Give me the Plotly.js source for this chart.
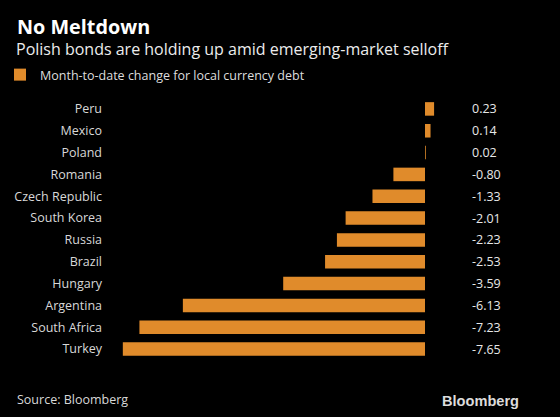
<!DOCTYPE html>
<html>
<head>
<meta charset="utf-8">
<script src="https://cdn.plot.ly/plotly-3.0.1.min.js"></script>
<style>
  html, body { margin: 0; padding: 0; background: #000; }
  #chart { width: 560px; height: 417px; }
</style>
</head>
<body>
<div id="chart"></div>
<script>
const countries = ["Peru", "Mexico", "Poland", "Romania", "Czech Republic", "South Korea",
                   "Russia", "Brazil", "Hungary", "Argentina", "South Africa", "Turkey"];
const changes = [0.23, 0.14, 0.02, -0.80, -1.33, -2.01, -2.23, -2.53, -3.59, -6.13, -7.23, -7.65];
const seriesName = "Month-to-date change for local currency debt";

const FONT = "Open Sans, DejaVu Sans, sans-serif";
const barColor = "#e08b2b";

// plot area in pixels (for converting header/footer positions to paper coords)
const M = { l: 106, r: 100, t: 98, b: 57 };
const W = 560, H = 417;
const PW = W - M.l - M.r, PH = H - M.t - M.b;
const px = x => (x - M.l) / PW;
const py = y => (H - M.b - y) / PH;

const valueAnnotations = countries.map((c, i) => ({
  xref: "paper", yref: "y",
  x: px(470), y: c,
  xanchor: "left", yanchor: "middle",
  text: changes[i].toFixed(2),
  showarrow: false,
  font: { family: FONT, size: 12.5, color: "#e8e8e8" }
}));

const data = [{
  type: "bar",
  orientation: "h",
  x: changes,
  y: countries,
  name: seriesName,
  marker: { color: barColor },
  width: 0.62,
  hoverinfo: "x+y",
  showlegend: true
}];

const layout = {
  width: W, height: H,
  paper_bgcolor: "#000", plot_bgcolor: "#000",
  margin: M,
  font: { family: FONT, color: "#dddddd", size: 12.5 },
  xaxis: {
    range: [-8.076, 0.886],
    showgrid: false, zeroline: false, showticklabels: false, showline: false, ticks: ""
  },
  yaxis: {
    type: "category",
    range: [11.5, -0.5],
    showgrid: false, zeroline: false, showline: false, ticks: "",
    ticklabelstandoff: 3,
    tickfont: { family: FONT, size: 12.5, color: "#d8d8d8" }
  },
  showlegend: true,
  legend: {
    orientation: "h",
    xref: "container", yref: "container",
    x: 0, y: 1 - 75 / H, xanchor: "left", yanchor: "middle",
    font: { family: FONT, size: 12.5, color: "#dddddd" },
    bgcolor: "rgba(0,0,0,0)"
  },
  annotations: [
    {
      xref: "paper", yref: "paper", x: px(15), y: py(26),
      xanchor: "left", yanchor: "middle", showarrow: false,
      text: "<b>No Meltdown</b>",
      font: { family: FONT, size: 19.8, color: "#ffffff" }
    },
    {
      xref: "paper", yref: "paper", x: px(14), y: py(49),
      xanchor: "left", yanchor: "middle", showarrow: false,
      text: "Polish bonds are holding up amid emerging-market selloff",
      font: { family: FONT, size: 16, color: "#ececec" }
    },
    {
      xref: "paper", yref: "paper", x: px(15), y: py(399),
      xanchor: "left", yanchor: "middle", showarrow: false,
      text: "Source: Bloomberg",
      font: { family: FONT, size: 12.5, color: "#d8d8d8" }
    },
    {
      xref: "paper", yref: "paper", x: px(521), y: py(401),
      xanchor: "right", yanchor: "middle", showarrow: false,
      text: "<b>Bloomberg</b>",
      font: { family: "Liberation Sans, Arial, sans-serif", size: 14.6, color: "#dcdcdc" }
    }
  ].concat(valueAnnotations)
};

Plotly.newPlot("chart", data, layout, { displayModeBar: false, staticPlot: true });
</script>
</body>
</html>
